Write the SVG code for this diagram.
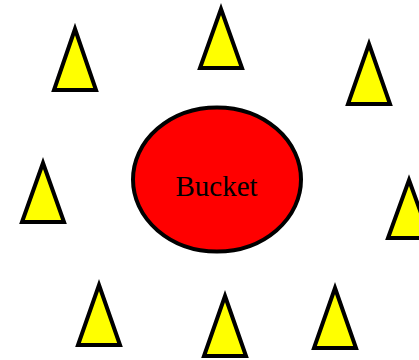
<svg xmlns="http://www.w3.org/2000/svg" width="419" height="360" viewBox="0 0 419 360">
<style>
.tri{fill:#ffff00;stroke:#000;stroke-width:4;stroke-linejoin:miter}
.bucket{fill:#ff0000;stroke:#000;stroke-width:4}
.lbl{font-family:"Liberation Serif",serif;font-size:29px;fill:#000;text-anchor:middle}
</style>
<rect width="419" height="360" fill="#fff"/>
<g id="bucket">
<ellipse class="bucket" cx="217" cy="179.5" rx="84" ry="72"/>
<text class="lbl" x="216.5" y="196">Bucket</text>
</g>
<g id="t1"><polygon class="tri" points="75,29 96,90 54,90"/></g>
<g id="t2"><polygon class="tri" points="221,9 242,68 200,68"/></g>
<g id="t3"><polygon class="tri" points="369,44 390,104 348,104"/></g>
<g id="t4"><polygon class="tri" points="43,163 64,222 22,222"/></g>
<g id="t5"><polygon class="tri" points="409,180 430,238 388,238"/></g>
<g id="t6"><polygon class="tri" points="99,285 120,345 78,345"/></g>
<g id="t7"><polygon class="tri" points="225,296 246,356 204,356"/></g>
<g id="t8"><polygon class="tri" points="335,288 356,348 314,348"/></g>
<g id="connectors"></g>
</svg>
